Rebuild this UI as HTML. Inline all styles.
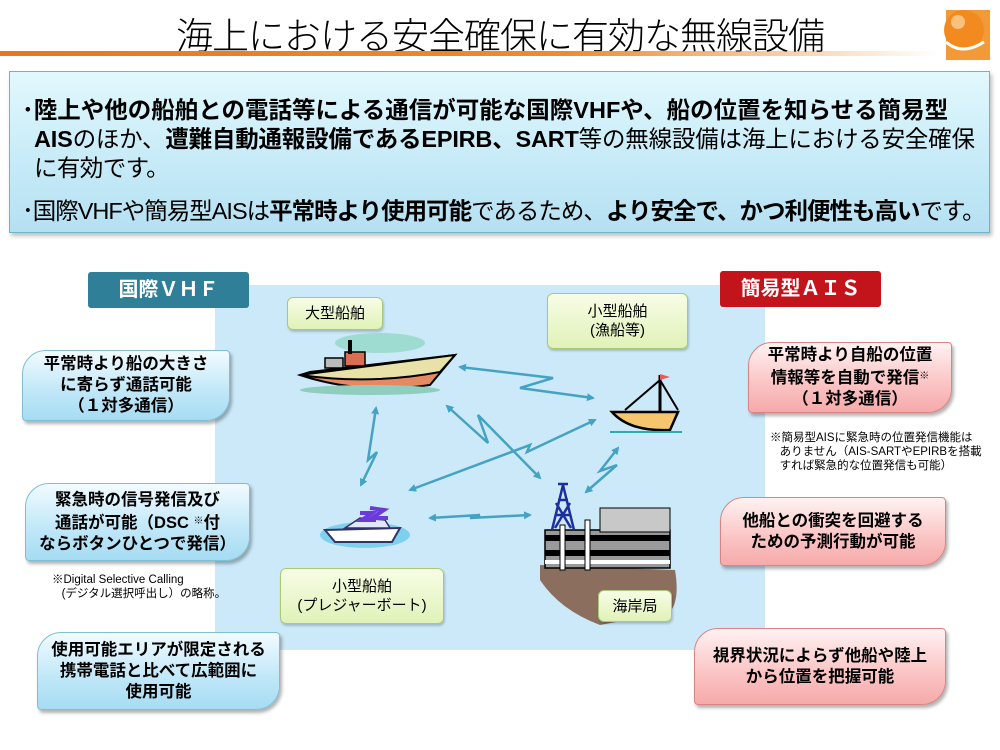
<!DOCTYPE html>
<html><head><meta charset="utf-8">
<style>
*{margin:0;padding:0;box-sizing:border-box}
body{width:1000px;height:750px;background:#fff;position:relative;overflow:hidden;font-family:"Liberation Sans","Noto Sans CJK JP",sans-serif;color:#000}
.abs{position:absolute}
.title{left:0;width:1000px;top:6px;text-align:center;font-size:37px;letter-spacing:-1px;font-weight:300}
.oline{left:0;top:51px;width:940px;height:5px;background:linear-gradient(90deg,#e8771e 0%,#f08a2a 60%,rgba(255,255,255,0) 100%)}
.top{left:9px;top:71px;width:981px;height:162px;border:1px solid #6fb5c9;background:linear-gradient(180deg,#e2f8fd 0%,#c5eaf7 60%,#b5e0f2 100%);box-shadow:2px 3px 4px rgba(0,0,0,.25)}
.top p{position:absolute;left:12px;font-size:23.5px;white-space:nowrap;letter-spacing:-0.6px}
.blue{left:215px;top:285px;width:550px;height:365px;background:#cce9f9}
.hdr{color:#fff;font-weight:bold;font-size:20px;text-align:center;line-height:36px;border-radius:3px}
.bx{font-weight:bold;font-size:16.5px;text-align:center;line-height:21px;border-radius:24px 4px 24px 4px;display:flex;align-items:center;justify-content:center;box-shadow:2px 3px 3px rgba(0,0,0,.3);white-space:nowrap}
.bb{background:linear-gradient(180deg,#f2fbff 0%,#bfe7f8 60%,#a6dcf3 100%);border:1px solid #7fbfd5}
.rb{background:linear-gradient(180deg,#fff2f2 0%,#fbc3c3 60%,#f6aaaa 100%);border:1px solid #d98484}
.gl{background:linear-gradient(180deg,#f7fde6 0%,#e0f2b8 100%);border:1px solid #a9c87a;border-radius:6px;font-size:15px;text-align:center;line-height:19px;display:flex;align-items:center;justify-content:center;box-shadow:1px 2px 2px rgba(0,0,0,.2)}
.note{font-size:11.5px;line-height:14px;white-space:nowrap}
sup{font-size:10px;vertical-align:4px}
</style></head><body>
<div class="abs title">海上における安全確保に有効な無線設備</div>
<div class="abs oline"></div>
<svg class="abs" style="left:940px;top:4px" width="52" height="58">
<rect x="6" y="6" width="44" height="50" fill="#f39a38"/>
<circle cx="24" cy="26" r="20" fill="#f28a20"/>
<circle cx="18" cy="18" r="7" fill="#f9c27c"/>
<path d="M6 38 Q22 52 44 38" stroke="#fff" stroke-width="3" fill="none"/>
</svg>
<div class="abs top">
<p style="top:19px;letter-spacing:0"><b>･陸上や他の船舶との電話等による通信が可能な国際VHFや、船の位置を知らせる簡易型</b></p>
<p style="top:48px;left:24px;letter-spacing:-0.2px"><b>AIS</b>のほか、<b>遭難自動通報設備であるEPIRB、SART</b>等の無線設備は海上における安全確保</p>
<p style="top:77px;left:24px">に有効です。</p>
<p style="top:120px;letter-spacing:-1px">･国際VHFや簡易型AISは<b>平常時より使用可能</b>であるため、<b>より安全で、かつ利便性も高い</b>です。</p>
</div>
<div class="abs blue"></div>
<div class="abs hdr" style="left:88px;top:272px;width:161px;height:36px;background:#2f7f98">国際ＶＨＦ</div>
<div class="abs hdr" style="left:720px;top:271px;width:161px;height:36px;background:#c3141b">簡易型ＡＩＳ</div>

<div class="abs bx bb" style="left:22px;top:350px;width:208px;height:71px"><div>平常時より船の大きさ<br>に寄らず通話可能<br>（１対多通信）</div></div>
<div class="abs bx bb" style="left:25px;top:483px;width:225px;height:78px"><div>緊急時の信号発信及び<br>通話が可能（DSC <sup>※</sup>付<br>ならボタンひとつで発信）</div></div>
<div class="abs note" style="left:52px;top:573px">※Digital Selective Calling<br>&nbsp;&nbsp;&nbsp;(デジタル選択呼出し）の略称。</div>
<div class="abs bx bb" style="left:37px;top:632px;width:243px;height:78px"><div>使用可能エリアが限定される<br>携帯電話と比べて広範囲に<br>使用可能</div></div>

<div class="abs bx rb" style="left:748px;top:342px;width:204px;height:71px"><div>平常時より自船の位置<br>情報等を自動で発信<sup>※</sup><br>（１対多通信）</div></div>
<div class="abs note" style="left:770px;top:431px">※簡易型AISに緊急時の位置発信機能は<br>&nbsp;&nbsp;&nbsp;ありません（AIS-SARTやEPIRBを搭載<br>&nbsp;&nbsp;&nbsp;すれば緊急的な位置発信も可能）</div>
<div class="abs bx rb" style="left:720px;top:497px;width:226px;height:69px"><div>他船との衝突を回避する<br>ための予測行動が可能</div></div>
<div class="abs bx rb" style="left:694px;top:628px;width:252px;height:77px"><div>視界状況によらず他船や陸上<br>から位置を把握可能</div></div>

<div class="abs gl" style="left:287px;top:297px;width:96px;height:33px">大型船舶</div>
<div class="abs gl" style="left:547px;top:293px;width:141px;height:56px">小型船舶<br>(漁船等)</div>
<div class="abs gl" style="left:280px;top:568px;width:164px;height:56px">小型船舶<br>(プレジャーボート)</div>

<svg class="abs" style="left:0;top:0" width="1000" height="750">
<defs><marker id="a" markerWidth="8" markerHeight="8" refX="6" refY="4" orient="auto-start-reverse" markerUnits="userSpaceOnUse"><path d="M0 0 L8 4 L0 8 Z" fill="#44a3c2"/></marker></defs>
<g stroke="#44a3c2" stroke-width="2.5" fill="none" marker-start="url(#a)" marker-end="url(#a)">
<polyline points="460,367 553,378 520,388 593,398"/>
<polyline points="376,408 368,460 377,452 361,485"/>
<polyline points="447,406 488,443 478,415 540,478"/>
<polyline points="410,490 530,445 527,452 595,420"/>
<polyline points="430,518 480,515 470,518 530,515"/>
<polyline points="586,492 617,465 600,471 618,448"/>
</g>
<ellipse cx="380" cy="343" rx="45" ry="10" fill="#9edbd0"/>
<path d="M300 375 Q360 395 430 385 L455 355 L310 372 Z" fill="#e58a60" stroke="#000" stroke-width="2"/>
<path d="M300 375 L455 355 L440 372 Q370 385 300 375Z" fill="#e8e1a8" stroke="#000" stroke-width="2"/>
<rect x="345" y="352" width="20" height="14" fill="#d96e50" stroke="#000" stroke-width="1.5"/>
<rect x="348" y="340" width="4" height="14" fill="#000"/>
<rect x="325" y="358" width="18" height="10" fill="#bbb" stroke="#000" stroke-width="1.5"/>
<ellipse cx="370" cy="390" rx="70" ry="5" fill="#8fcdbf"/>
<path d="M612 412 Q630 432 670 430 L678 412 Z" fill="#f6c66e" stroke="#000" stroke-width="2.5"/>
<line x1="660" y1="375" x2="660" y2="412" stroke="#000" stroke-width="3"/>
<line x1="660" y1="380" x2="625" y2="410" stroke="#000" stroke-width="2"/>
<line x1="660" y1="380" x2="678" y2="410" stroke="#000" stroke-width="2"/>
<path d="M660 374 L670 377 L660 380Z" fill="#e65a5a"/>
<line x1="610" y1="432" x2="682" y2="432" stroke="#3aa" stroke-width="2"/>
<ellipse cx="365" cy="535" rx="45" ry="13" fill="#7fd0ee"/>
<path d="M325 530 L400 528 L392 542 L335 542Z" fill="#fff" stroke="#336" stroke-width="2"/>
<path d="M345 528 L360 518 L385 520 L390 528Z" fill="#dfe8ff" stroke="#336" stroke-width="1.5"/>
<path d="M360 513 L372 513 L362 520 L376 520 M370 508 L384 510 L372 518 L388 518" stroke="#6a3bd6" stroke-width="4" fill="none"/>
<path d="M540 565 L675 570 Q680 600 670 612 L600 625 Q560 610 540 580Z" fill="#8b6e5e"/>
<rect x="545" y="530" width="125" height="38" fill="#9a9a9a" stroke="#000" stroke-width="1.5"/>
<rect x="545" y="535" width="125" height="6" fill="#000"/>
<rect x="545" y="550" width="125" height="6" fill="#000"/>
<rect x="545" y="560" width="125" height="4" fill="#fff"/>
<rect x="600" y="508" width="70" height="24" fill="#c8c8c8" stroke="#000" stroke-width="1"/>
<rect x="560" y="525" width="5" height="45" fill="#fff" stroke="#000"/>
<rect x="585" y="520" width="5" height="50" fill="#fff" stroke="#000"/>
<path d="M563 485 L552 530 M563 485 L574 530 M555 515 L571 515 M558 500 L568 500 M556 503 L571 528 M570 503 L555 528" stroke="#1d2f9c" stroke-width="2.5" fill="none"/>
<line x1="558" y1="484" x2="568" y2="484" stroke="#1d2f9c" stroke-width="2.5"/>
</svg>
<div class="abs gl" style="left:598px;top:590px;width:74px;height:32px">海岸局</div>
</body></html>
